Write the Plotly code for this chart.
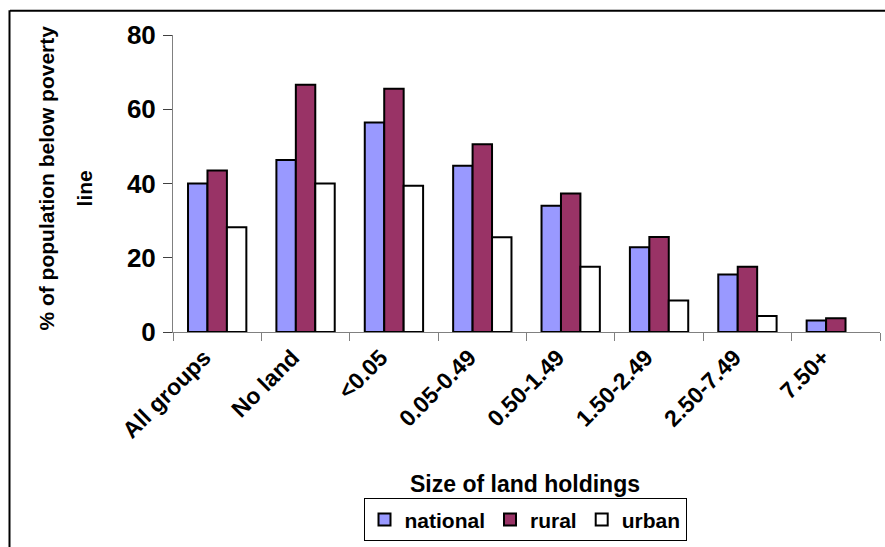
import plotly.graph_objects as go

categories = ["All groups", "No land", "<0.05", "0.05-0.49", "0.50-1.49",
              "1.50-2.49", "2.50-7.49", "7.50+"]
national = [40.0, 46.3, 56.4, 44.8, 34.0, 22.8, 15.5, 3.1]
rural = [43.5, 66.6, 65.5, 50.6, 37.3, 25.6, 17.6, 3.7]
urban = [28.2, 40.0, 39.4, 25.5, 17.6, 8.5, 4.3, None]

FONT = "Liberation Sans, Arial, sans-serif"

fig = go.Figure()
for name, vals, color in [("national", national, "#9999FF"),
                          ("rural", rural, "#993366"),
                          ("urban", urban, "#FFFFFF")]:
    fig.add_trace(go.Bar(x=categories, y=vals, name=name,
                         marker=dict(color=color, line=dict(color="black", width=2))))

L, R, T, B = 173, 5, 35, 212
W, H = 885, 547
pw = W - L - R
ph = H - T - B

def px_x(p):
    return (p - L) / pw

def px_y(p):
    return (H - B - p) / ph

fig.update_layout(
    width=W, height=H,
    margin=dict(l=L, r=R, t=T, b=B),
    paper_bgcolor="white", plot_bgcolor="white",
    barmode="group", bargap=0.34, bargroupgap=0,
    font=dict(family=FONT, color="black"),
    showlegend=True,
    legend=dict(orientation="h", x=px_x(525), xanchor="center",
                y=px_y(503), yanchor="top",
                font=dict(size=21, weight="bold", family=FONT),
                bordercolor="black", borderwidth=1, bgcolor="white",
                itemwidth=30, tracegroupgap=0),
    xaxis=dict(tickangle=-45, tickfont=dict(size=23, weight="bold", family=FONT),
               showline=True, linecolor="#808080", linewidth=1,
               ticks="outside", tickson="boundaries", ticklen=8, tickcolor="#808080",
               ticklabelstandoff=2, ticklabelshift=-13,
               showgrid=False, zeroline=False),
    yaxis=dict(range=[0, 80], tickvals=[0, 20, 40, 60, 80],
               tickfont=dict(size=26, weight="bold", family=FONT),
               showline=True, linecolor="#808080", linewidth=1,
               ticks="outside", ticklen=9, tickcolor="#404040",
               ticklabelstandoff=2,
               showgrid=False, zeroline=False),
    annotations=[
        dict(text="% of population below poverty", textangle=-90,
             xref="paper", yref="paper", x=px_x(47), y=px_y(180),
             xanchor="center", yanchor="middle", showarrow=False,
             font=dict(size=21, weight="bold", family=FONT)),
        dict(text="line", textangle=-90,
             xref="paper", yref="paper", x=px_x(84), y=px_y(190),
             xanchor="center", yanchor="middle", showarrow=False,
             font=dict(size=21, weight="bold", family=FONT)),
        dict(text="Size of land holdings",
             xref="paper", yref="paper", x=px_x(525), y=px_y(489),
             xanchor="center", yanchor="middle", showarrow=False,
             font=dict(size=23, weight="bold", family=FONT)),
    ],
    shapes=[
        dict(type="line", xref="paper", yref="paper",
             x0=px_x(10), x1=px_x(900), y0=px_y(10.5), y1=px_y(10.5),
             line=dict(color="black", width=2)),
        dict(type="line", xref="paper", yref="paper",
             x0=px_x(9.5), x1=px_x(9.5), y0=px_y(10), y1=px_y(560),
             line=dict(color="black", width=2)),
    ],
)

fig.write_html("out.html")
